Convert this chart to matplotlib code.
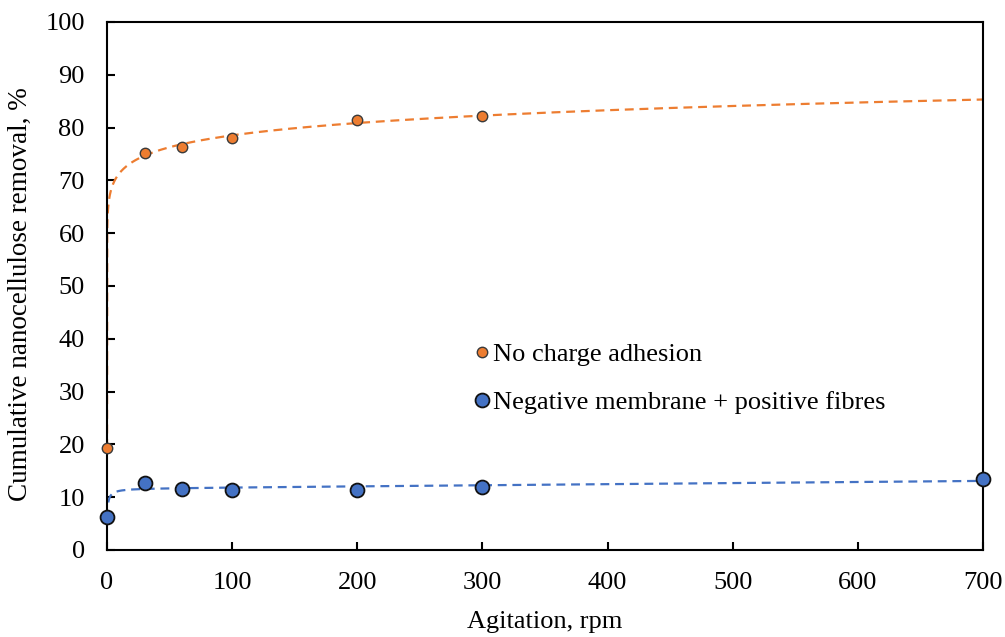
import numpy as np
import matplotlib
matplotlib.use("Agg")
import matplotlib.pyplot as plt

plt.rcParams['font.family'] = ['Liberation Serif', 'DejaVu Serif']

# Data
agitation_nc = [0, 30, 60, 100, 200, 300]
removal_nc = [19.3, 75.2, 76.3, 78.1, 81.4, 82.2]
agitation_neg = [0, 30, 60, 100, 200, 300, 700]
removal_neg = [6.3, 12.7, 11.6, 11.4, 11.4, 12.0, 13.4]
label_nc = "No charge adhesion"
label_neg = "Negative membrane + positive fibres"
xticks = [0, 100, 200, 300, 400, 500, 600, 700]
yticks = [0, 10, 20, 30, 40, 50, 60, 70, 80, 90, 100]

ORANGE = '#ED7D31'
BLUE = '#4472C4'
FS = 19


def fit_offset_power(x, y):
    """Least squares fit of y = y0 + a * x**b (grid over b)."""
    x = np.asarray(x, float)
    y = np.asarray(y, float)
    best = None
    for b in np.linspace(0.005, 1.0, 2000):
        A = np.column_stack([np.ones_like(x), np.power(x, b)])
        coef, *_ = np.linalg.lstsq(A, y, rcond=None)
        r = np.sum((A @ coef - y) ** 2)
        if best is None or r < best[0]:
            best = (r, coef, b)
    return best[1], best[2]


def fit_hyper_linear(x, y, kgrid):
    """Least squares fit of y = y0 + a*x/(K+x) + c*x (grid over K)."""
    x = np.asarray(x, float)
    y = np.asarray(y, float)
    best = None
    for K in kgrid:
        A = np.column_stack([np.ones_like(x), x / (K + x), x])
        coef, *_ = np.linalg.lstsq(A, y, rcond=None)
        r = np.sum((A @ coef - y) ** 2)
        if best is None or r < best[0]:
            best = (r, coef, K)
    return best[1], best[2]


fig = plt.figure(figsize=(10.05, 6.37), dpi=100)
ax = fig.add_axes([0.1065, 0.1366, 0.8716, 0.8289])

# Trend lines
(y0, a), b = fit_offset_power(agitation_nc, removal_nc)
xs = np.concatenate([[0], np.geomspace(0.05, 700, 600)])
ax.plot(xs, y0 + a * xs ** b, ls=(0, (4, 2.6)), color=ORANGE, lw=1.6, zorder=2)

(c0, c1, c2), K = fit_hyper_linear(agitation_neg, removal_neg, np.linspace(1, 100, 400))
xs2 = np.linspace(1, 700, 1400)
ax.plot(xs2, c0 + c1 * xs2 / (K + xs2) + c2 * xs2, ls=(0, (4, 2.6)), color=BLUE,
        lw=1.6, zorder=2)

# Points
ax.plot(agitation_nc, removal_nc, 'o', ms=7.5, mfc=ORANGE, mec='#3a3a3a', mew=1.0,
        label=label_nc, zorder=3, clip_on=False)
ax.plot(agitation_neg, removal_neg, 'o', ms=10, mfc=BLUE, mec='#111111', mew=1.3,
        label=label_neg, zorder=3, clip_on=False)

ax.set_xlim(0, 700)
ax.set_ylim(0, 100)
ax.set_xticks(xticks)
ax.set_yticks(yticks)
ax.tick_params(direction='in', length=6, width=1.5, labelsize=FS,
               top=False, right=False)
ax.tick_params(axis='x', pad=16)
ax.tick_params(axis='y', pad=16)
for s in ax.spines.values():
    s.set_linewidth(1.5)
    s.set_color('black')

ax.set_xlabel("Agitation, rpm", fontsize=FS, labelpad=12)
ax.set_ylabel("Cumulative nanocellulose removal, %", fontsize=FS + 0.5)
ax.yaxis.set_label_coords(-0.085, 0.485)

ax.legend(loc='upper left', bbox_to_anchor=(0.407, 0.412), frameon=False,
          fontsize=FS, handlelength=0.6, handletextpad=0.12, labelspacing=0.92,
          borderaxespad=0)

fig.savefig('out.png', dpi=100)
